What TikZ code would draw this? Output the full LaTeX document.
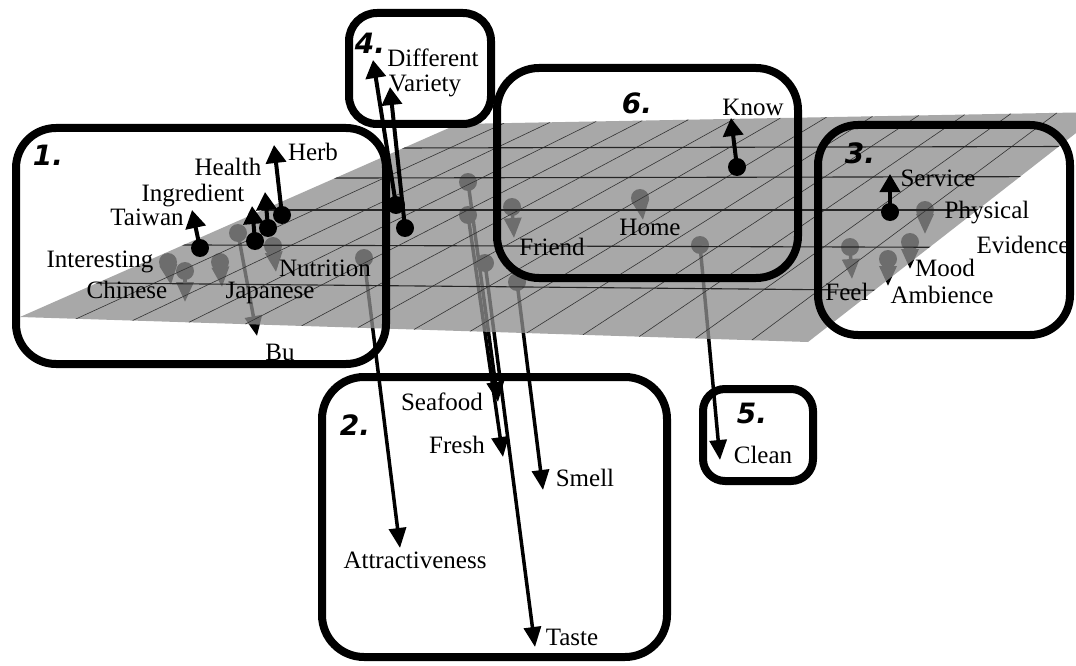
\documentclass[tikz,border=0pt]{standalone}
\usepackage{fontspec}
\setmainfont{Liberation Serif}
\newfontfamily\handfont{DejaVu Sans}
\usetikzlibrary{arrows.meta,calc}
\definecolor{planegray}{gray}{0.56}

\begin{document}
\begin{tikzpicture}[x=1pt,y=-1pt,
  lbl/.style={font=\fontsize{25}{28}\selectfont, inner sep=0pt},
  num/.style={font=\handfont\bfseries\itshape\fontsize{28}{30}\selectfont, inner sep=0pt},
  group/.style={line width=8pt, rounded corners=#1},
  group/.default=40pt,
  upvec/.style={line width=4pt, -{Triangle[length=18pt,width=20pt]}},
  downvec/.style={line width=3.5pt, -{Triangle[length=20pt,width=17pt]}},
  hline/.style={line width=1.1pt, black!85},
  dline/.style={line width=0.6pt, black!80},
]
\useasboundingbox (0,0) rectangle (1076,666);
\fill[white] (0,0) rectangle (1076,666);

% plane corners
\coordinate (A) at (20,317);
\coordinate (B) at (808,342);
\coordinate (C) at (1103,112);
\coordinate (D) at (458,124);

% ---- vectors lying beneath the plane (seen through it) ----
\foreach \n/\bx/\by/\tx/\ty in {
  interesting/168/262/171/285,
  chinese/185/271/185/302,
  japanese/220/262/222/287,
  bu/238/233/257/336,
  nutrition/273/246/276/272,
  attract/364/258/400/548,
  seafood/468/182/498/402,
  fresh/468/215/503/457,
  taste/485/263/535/647,
  smell/517/282/543/490,
  friend/512/207/514/238,
  home/640/198/643/220,
  clean/700/245/720/460,
  physical/925/210/925/234,
  feel/850/247/852/279,
  ambience/888/259/888/286,
  mood/910/242/910/269}{
  \coordinate (\n-base) at (\bx,\by);
  \coordinate (\n-tip) at (\tx,\ty);
  \fill (\n-base) circle (9);
  \draw[downvec] (\n-base) -- (\n-tip);
}

% ---- translucent plane ----
\fill[planegray, opacity=0.77] (A) -- (B) -- (C) -- (D) -- cycle;

% grid on the plane
\begin{scope}
  \clip (A) -- (B) -- (C) -- (D) -- cycle;
  \foreach \i in {1,...,13}{
    \draw[dline] ($(A)!\i/14!(B)$) -- ($(D)!\i/14!(C)$);
  }
  \draw[hline] (0,282.1) -- (1110,292.4);
  \draw[hline] (0,244.4) -- (1110,247.8);
  \draw[hline] (0,210) -- (1110,210);
  \draw[hline] (0,178.7) -- (1110,176.5);
  \draw[hline] (0,148.9) -- (1110,146.4);
\end{scope}

% ---- vectors rising above the plane ----
\foreach \n/\bx/\by/\tx/\ty in {
  taiwan/200/248/192/210,
  ingredient/255/241/252/206,
  health/268/228/265/192,
  herb/282/215/274/145,
  different/396/205/373/60,
  variety/405/228/390/87,
  know/737/167/731/118,
  service/890/212/890/174}{
  \coordinate (\n-base) at (\bx,\by);
  \coordinate (\n-tip) at (\tx,\ty);
  \draw[upvec] (\n-base) -- (\n-tip);
  \fill (\n-base) circle (9);
}

% ---- labels ----
\node[lbl] (l-herb) at (313,152) {Herb};
\node[lbl] (l-health) at (228,167) {Health};
\node[lbl] (l-ingredient) at (193,196) {Ingredient};
\node[lbl] (l-taiwan) at (147,217) {Taiwan};
\node[lbl] (l-interesting) at (100,262) {Interesting};
\node[lbl] (l-chinese) at (127,290) {Chinese};
\node[lbl] (l-japanese) at (270,293) {Japanese};
\node[lbl] (l-nutrition) at (325,268) {Nutrition};
\node[lbl] (l-bu) at (280,352) {Bu};
\node[lbl] (l-different) at (433,58) {Different};
\node[lbl] (l-variety) at (425,86) {Variety};
\node[lbl] (l-know) at (753,107) {Know};
\node[lbl] (l-home) at (650,227) {Home};
\node[lbl] (l-friend) at (552,247) {Friend};
\node[lbl] (l-service) at (938,178) {Service};
\node[lbl] (l-physical) at (987,213) {Physical};
\node[lbl] (l-evidence) at (1023,245) {Evidence};
\node[lbl] (l-mood) at (945,268) {Mood};
\node[lbl] (l-ambience) at (942,295) {Ambience};
\node[lbl] (l-feel) at (847,292) {Feel};
\node[lbl] (l-seafood) at (442,402) {Seafood};
\node[lbl] (l-fresh) at (457,445) {Fresh};
\node[lbl] (l-smell) at (585,478) {Smell};
\node[lbl] (l-attract) at (415,560) {Attractiveness};
\node[lbl] (l-taste) at (572,637) {Taste};
\node[lbl] (l-clean) at (763,455) {Clean};

% ---- group frames ----
\draw[group] (16,128) rectangle (386,364);
\draw[group=28pt] (349,13) rectangle (491,124);
\draw[group=42pt] (497,68) rectangle (798,278);
\draw[group] (818,125) rectangle (1070,335);
\draw[group=42pt] (322,377) rectangle (667,657);
\draw[group=22pt] (703,389) rectangle (813,481);

\node[num] (n1) at (48,155) {1.};
\node[num] (n4) at (370,43) {4.};
\node[num] (n6) at (637,103) {6.};
\node[num] (n3) at (860,153) {3.};
\node[num] (n2) at (355,425) {2.};
\node[num] (n5) at (752,413) {5.};
\end{tikzpicture}
\end{document}
